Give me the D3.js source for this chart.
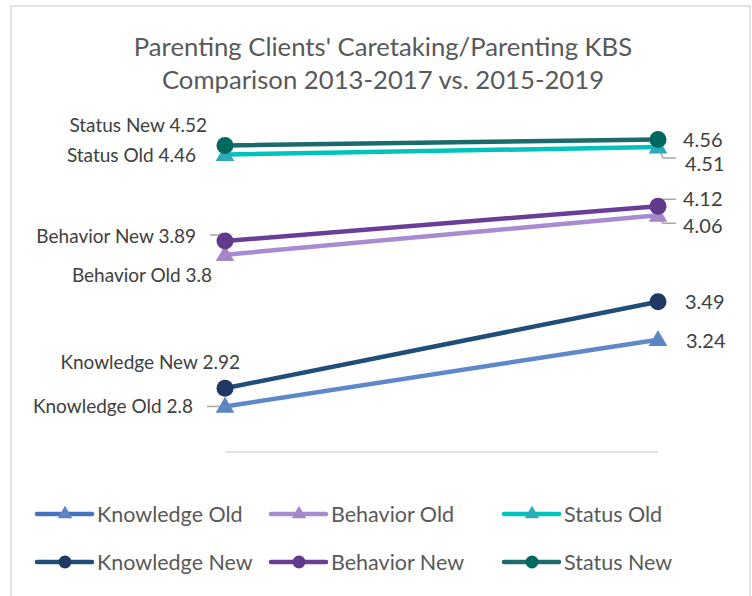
<!DOCTYPE html>
<html>
<head>
<meta charset="utf-8">
<script src="https://cdn.jsdelivr.net/npm/d3@7"></script>
<style>
  body { margin: 0; background: #fff; }
  svg text { font-family: Lato, "Open Sans", sans-serif; }
</style>
</head>
<body>
<div id="chart"></div>
<script>
// data
const categories = ['2013-2017', '2015-2019'];
const seriesNames = ['Knowledge Old', 'Behavior Old', 'Status Old', 'Knowledge New', 'Behavior New', 'Status New'];
const knowledgeOld = [2.8, 3.24];
const behaviorOld = [3.8, 4.06];
const statusOld = [4.46, 4.51];
const knowledgeNew = [2.92, 3.49];
const behaviorNew = [3.89, 4.12];
const statusNew = [4.52, 4.56];
const yDomain = [2.5, 4.8];

const seriesValues = [knowledgeOld, behaviorOld, statusOld, knowledgeNew, behaviorNew, statusNew];
const lineColors = ['#5e88c9', '#a88bd0', '#00c4bc', '#1f4e79', '#6a3d98', '#1d6a6c'];
const markerColors = ['#5b86c2', '#a586c9', '#2eaab8', '#203864', '#613a8c', '#00695f'];
const markerShape = ['triangle', 'triangle', 'triangle', 'circle', 'circle', 'circle'];

// label placement per series: [left point, right point] -> dx, dy, anchor, leader (relative to point)
const labelLayout = [
  [{dx: -32, dy: 0, anchor: 'end', leader: [[-18, 0], [-3, 0]]}, {dx: 28, dy: 1, anchor: 'start'}],
  [{dx: -13, dy: 21, anchor: 'end'}, {dx: 25, dy: 11, anchor: 'start', leader: [[0, 0], [5, 8], [18, 8]]}],
  [{dx: -29, dy: 1, anchor: 'end'}, {dx: 27, dy: 17, anchor: 'start', leader: [[0, -1], [5, 11], [18, 11]]}],
  [{dx: 15, dy: -26, anchor: 'end'}, {dx: 27, dy: 0, anchor: 'start'}],
  [{dx: -29, dy: -5, anchor: 'end', leader: [[-15, -6], [-3, -6], [0, 0]]}, {dx: 25, dy: -7, anchor: 'start', leader: [[0, 0], [5, -7], [18, -7]]}],
  [{dx: -18, dy: -20, anchor: 'end'}, {dx: 25, dy: 1, anchor: 'start'}]
];

const width = 752;
const height = 596;

const svg = d3.select('#chart').append('svg')
  .attr('width', width)
  .attr('height', height);

// chart frame
svg.append('rect')
  .attr('x', 11).attr('y', 6)
  .attr('width', 739).attr('height', 620)
  .attr('fill', 'none')
  .attr('stroke', '#d9d9d9')
  .attr('stroke-width', 1.5);

/* Title */
const title = svg.append('text')
  .attr('text-anchor', 'middle')
  .attr('fill', '#595959')
  .style('font-size', '25.7px');
title.append('tspan').attr('x', 383).attr('y', 56).text("Parenting Clients' Caretaking/Parenting KBS");
title.append('tspan').attr('x', 383).attr('y', 89).text('Comparison 2013-2017 vs. 2015-2019');

/* Scales */
const xScale = d3.scalePoint()
  .domain(categories)
  .range([225, 658]);

const yScale = d3.scaleLinear()
  .domain(yDomain)
  .range([452, 103]);

/* category axis line */
svg.append('line')
  .attr('x1', xScale(categories[0])).attr('x2', xScale(categories[1]))
  .attr('y1', yScale(yDomain[0])).attr('y2', yScale(yDomain[0]))
  .attr('stroke', '#d9d9d9')
  .attr('stroke-width', 1.5);

const line = d3.line()
  .x((d, i) => xScale(categories[i]))
  .y(d => yScale(d));

const tri = d3.symbol().type(d3.symbolTriangle).size(150);

function drawMarker(g, shape, color, x, y) {
  if (shape === 'circle') {
    g.append('circle')
      .attr('cx', x).attr('cy', y)
      .attr('r', 8.5)
      .attr('fill', color);
  } else {
    g.append('path')
      .attr('d', tri)
      .attr('transform', `translate(${x}, ${y + 1})`)
      .attr('fill', color);
  }
}

// leader lines under everything
const leaders = svg.append('g').attr('class', 'leaders');

seriesValues.forEach((vals, s) => {
  const g = svg.append('g').attr('class', 'series');
  g.append('path')
    .attr('d', line(vals))
    .attr('fill', 'none')
    .attr('stroke', lineColors[s])
    .attr('stroke-width', 4.5)
    .attr('stroke-linecap', 'round');
  vals.forEach((v, i) => {
    drawMarker(g, markerShape[s], markerColors[s], xScale(categories[i]), yScale(v));
  });
});

/* data labels */
const labels = svg.append('g').attr('class', 'labels');
seriesValues.forEach((vals, s) => {
  vals.forEach((v, i) => {
    const px = xScale(categories[i]);
    const py = yScale(v);
    const lay = labelLayout[s][i];
    const txt = i === 0 ? `${seriesNames[s]} ${v}` : `${v}`;
    labels.append('text')
      .attr('x', px + lay.dx)
      .attr('y', py + lay.dy)
      .attr('dy', '0.35em')
      .attr('text-anchor', lay.anchor)
      .attr('fill', '#404040')
      .style('font-size', i === 0 ? '19px' : '20px')
      .text(txt);
    if (lay.leader) {
      leaders.append('polyline')
        .attr('points', lay.leader.map(p => [px + p[0], py + p[1]].join(',')).join(' '))
        .attr('fill', 'none')
        .attr('stroke', '#a6a6a6')
        .attr('stroke-width', 1.5);
    }
  });
});
// leaders sit below markers
leaders.raise();
svg.selectAll('.series').raise();
labels.raise();

/* Legend */
const legendCols = [37, 271, 504];
const legendRows = [514, 562];
const legend = svg.append('g').attr('class', 'legend');
seriesNames.forEach((name, s) => {
  const x = legendCols[s % 3];
  const y = legendRows[Math.floor(s / 3)];
  const g = legend.append('g');
  g.append('line')
    .attr('x1', x).attr('x2', x + 55)
    .attr('y1', y).attr('y2', y)
    .attr('stroke', s < 3 ? ['#4472c4', '#a68bcf', '#00c4bc'][s] : lineColors[s])
    .attr('stroke-width', 4.5)
    .attr('stroke-linecap', 'round');
  if (markerShape[s] === 'circle') {
    g.append('circle').attr('cx', x + 28).attr('cy', y).attr('r', 6.5).attr('fill', markerColors[s]);
  } else {
    g.append('path')
      .attr('d', d3.symbol().type(d3.symbolTriangle).size(90))
      .attr('transform', `translate(${x + 28}, ${y})`)
      .attr('fill', markerColors[s]);
  }
  g.append('text')
    .attr('x', x + 60)
    .attr('y', y)
    .attr('dy', '0.35em')
    .attr('fill', '#595959')
    .style('font-size', '21.5px')
    .text(name);
});
</script>
</body>
</html>
